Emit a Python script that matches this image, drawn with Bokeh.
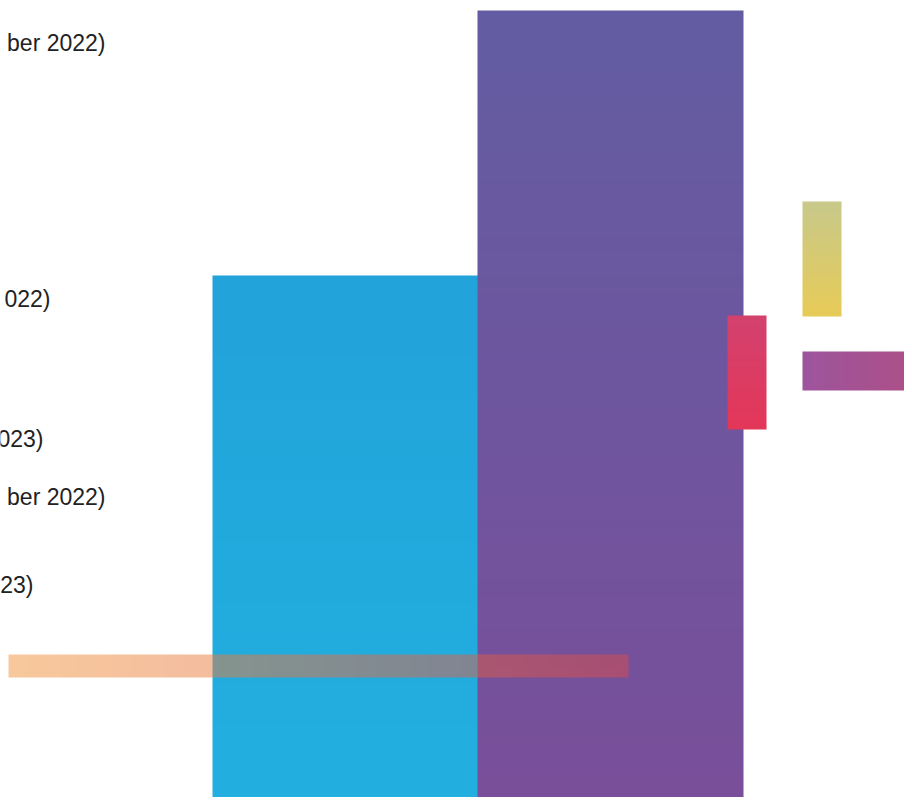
import numpy as np
from bokeh.plotting import figure
from bokeh.models import Range1d
from bokeh.core.properties import value
from bokeh.embed import file_html
from bokeh.resources import INLINE

# ---- data -------------------------------------------------------------
bar_names = ["blue", "purple", "red", "yellow", "magenta", "orange"]
bar_x0 = [204, 469, 719, 794, 794, 0]
bar_x1 = [470, 735, 758, 833, 904, 620]
bar_y0 = [0, 0, 376, 489, 415, 128]
bar_y1 = [530, 795, 490, 604, 454, 151]
# gradient start/end colours (start = bottom or left, end = top or right)
bar_c0 = [(35, 176, 224), (122, 79, 154), (228, 55, 90), (232, 204, 88), (158, 85, 158), (241, 147, 56)]
bar_c1 = [(34, 163, 218), (99, 93, 163), (211, 66, 110), (200, 201, 139), (173, 80, 136), (217, 76, 76)]
bar_dir = ["v", "v", "v", "v", "h", "h"]
bar_alpha = [1.0, 1.0, 1.0, 1.0, 1.0, 0.5]

label_text = ["ber 2022)", "022)", "023)", "ber 2022)", "23)"]
label_x = [97, 42, 35, 97, 25]
label_y = [763, 507, 367, 309, 221]

W, H = 904, 797

p = figure(width=W, height=H, output_backend="svg", toolbar_location=None,
           x_range=Range1d(-8, W - 8), y_range=Range1d(8, H + 8), min_border=0)
p.axis.visible = False
p.grid.visible = False
p.outline_line_color = None
p.background_fill_color = "white"
p.border_fill_color = "white"


def grad_image(c0, c1, direction, w, h, alpha):
    n = int(max(h, w))
    t = np.linspace(0, 1, n)
    cols = np.array(c0)[None, :] * (1 - t[:, None]) + np.array(c1)[None, :] * t[:, None]
    a = np.full((n, 1), int(round(alpha * 255)))
    rgba = np.concatenate([cols, a], axis=1).astype(np.uint8)
    packed = rgba.view(np.uint32).reshape(n)
    if direction == "v":
        img = packed.reshape(n, 1)
    else:
        img = packed.reshape(1, n)
    return img


for i in range(len(bar_names)):
    w = bar_x1[i] - bar_x0[i]
    h = bar_y1[i] - bar_y0[i]
    img = grad_image(bar_c0[i], bar_c1[i], bar_dir[i], w, h, bar_alpha[i])
    p.image_rgba(image=[img], x=bar_x0[i], y=bar_y0[i], dw=w, dh=h)

p.text(x=label_x, y=label_y, text=label_text, text_align="right", text_baseline="middle",
       text_font=value("Liberation Sans"), text_font_size="23px", text_color="#222222")

open("out.html", "w").write(file_html(p, INLINE))
